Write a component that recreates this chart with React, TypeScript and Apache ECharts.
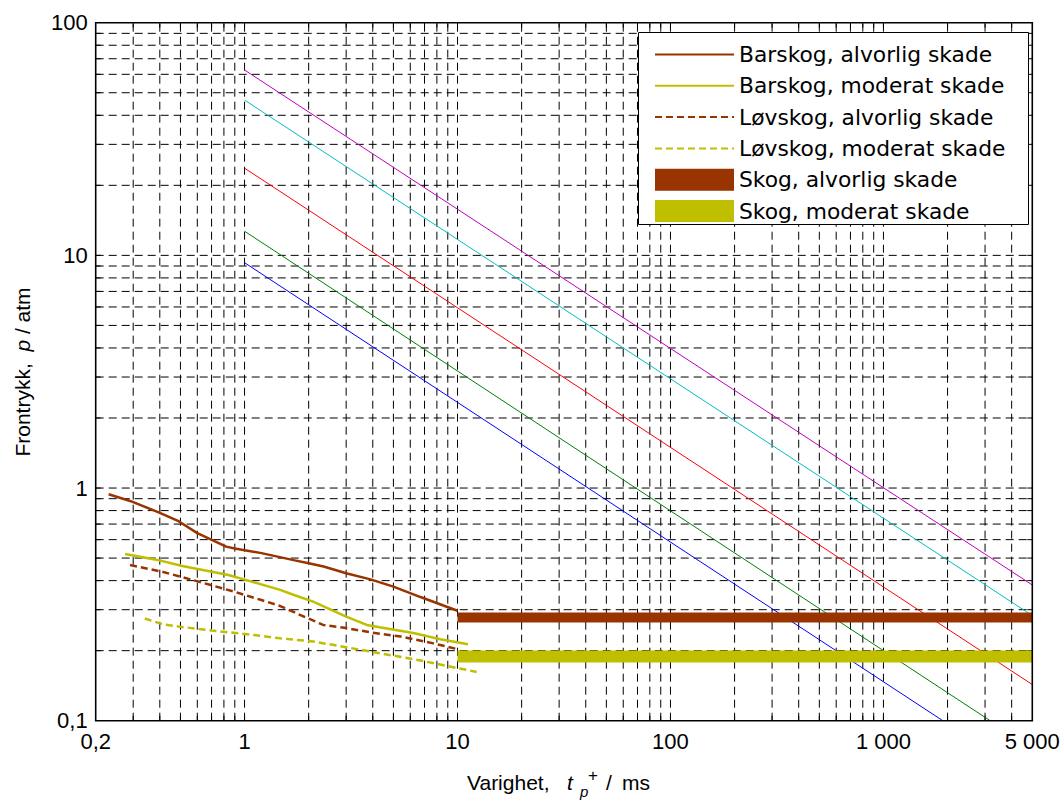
import React, { useEffect, useRef } from 'react';
import * as echarts from 'echarts';

// Axis ranges (log-log)
const X_MIN = 0.2;
const X_MAX = 5000;
const Y_MIN = 0.1;
const Y_MAX = 100;

// Labelled ticks
const xTickValues = [0.2, 1, 10, 100, 1000, 5000];
const xTickLabels = ['0,2', '1', '10', '100', '1 000', '5 000'];
const yTickValues = [0.1, 1, 10, 100];
const yTickLabels = ['0,1', '1', '10', '100'];

// Grid line positions (1..9 within each decade)
const gridMultipliers = [1, 2, 3, 4, 5, 6, 7, 8, 9];
const xDecades = [0.1, 1, 10, 100, 1000];
const yDecades = [0.1, 1, 10];

// Damage curves: [duration ms, pressure atm]
const barskogAlvorlig = [
  [0.23, 0.94], [0.29, 0.88], [0.39, 0.79], [0.49, 0.72], [0.6, 0.64], [0.82, 0.56],
  [0.9, 0.55], [1.2, 0.525], [1.7, 0.49], [2, 0.475], [2.35, 0.46], [3, 0.43],
  [3.9, 0.405], [5, 0.377], [6.7, 0.34], [10, 0.297],
];
const barskogModerat = [
  [0.275, 0.521], [0.39, 0.491], [0.51, 0.462], [0.84, 0.423], [1.04, 0.4], [1.47, 0.365],
  [1.72, 0.346], [2.1, 0.325], [3, 0.28], [3.75, 0.258], [4.3, 0.252], [6.2, 0.238],
  [8.3, 0.224], [11.2, 0.213],
];
const lovskogAlvorlig = [
  [0.29, 0.467], [0.41, 0.437], [0.585, 0.4], [0.9, 0.358], [1.2, 0.33], [1.47, 0.311],
  [1.72, 0.292], [1.82, 0.285], [2.34, 0.258], [3, 0.25], [4, 0.239], [5.4, 0.23],
  [7.7, 0.215], [10, 0.203],
];
const lovskogModerat = [
  [0.34, 0.275], [0.41, 0.26], [0.49, 0.254], [0.7, 0.244], [1, 0.236], [1.47, 0.226],
  [2.1, 0.219], [3, 0.207], [4.3, 0.195], [6.2, 0.184], [8.9, 0.172], [12.3, 0.162],
];

// Forest damage levels for long durations
const skogAlvorlig = [[10, 0.278], [5000, 0.278]];
const skogModerat = [[10, 0.189], [5000, 0.189]];

// Straight reference lines (endpoints)
const lineMagenta = [[1, 62.6], [5000, 0.383]];
const lineCyan = [[1, 46.5], [5000, 0.283]];
const lineRed = [[1, 23.7], [5000, 0.143]];
const lineGreen = [[1, 12.7], [3170, 0.1]];
const lineBlue = [[1, 9.3], [1900, 0.1]];

const BROWN = '#993300';
const OLIVE = '#bfbf00';
const AXIS_FONT = 'Liberation Sans, Arial, sans-serif';
const LEGEND_FONT = 'DejaVu Sans, sans-serif';
const TICK = 5;

function gridValues(decades: number[], lo: number, hi: number) {
  const out: number[] = [];
  decades.forEach((d) => {
    gridMultipliers.forEach((m) => {
      const v = parseFloat((d * m).toPrecision(6));
      if (v > lo * 1.0001 && v < hi * 0.9999) out.push(v);
    });
  });
  return out;
}

const xGridLines = gridValues(xDecades, X_MIN, X_MAX);
const yGridLines = gridValues(yDecades, Y_MIN, Y_MAX);

function pickLabel(values: number[], labels: string[], v: number) {
  const i = values.findIndex((t) => Math.abs(Math.log10(t) - Math.log10(v)) < 0.01);
  return i >= 0 ? labels[i] : '';
}

function renderXGrid(_params: any, api: any) {
  const v = api.value(0);
  const b = api.coord([v, Y_MIN]);
  const t = api.coord([v, Y_MAX]);
  return {
    type: 'group',
    children: [
      { type: 'line', shape: { x1: b[0], y1: b[1], x2: t[0], y2: t[1] }, style: { stroke: '#000', lineWidth: 1, lineDash: [8, 5] } },
      { type: 'line', shape: { x1: b[0], y1: b[1], x2: b[0], y2: b[1] - TICK }, style: { stroke: '#000', lineWidth: 1 } },
      { type: 'line', shape: { x1: t[0], y1: t[1], x2: t[0], y2: t[1] + TICK }, style: { stroke: '#000', lineWidth: 1 } },
    ],
  };
}

function renderYGrid(_params: any, api: any) {
  const v = api.value(1);
  const l = api.coord([X_MIN, v]);
  const r = api.coord([X_MAX, v]);
  return {
    type: 'group',
    children: [
      { type: 'line', shape: { x1: l[0], y1: l[1], x2: r[0], y2: r[1] }, style: { stroke: '#000', lineWidth: 1, lineDash: [8, 5] } },
      { type: 'line', shape: { x1: l[0], y1: l[1], x2: l[0] + TICK, y2: l[1] }, style: { stroke: '#000', lineWidth: 1 } },
      { type: 'line', shape: { x1: r[0], y1: r[1], x2: r[0] - TICK, y2: r[1] }, style: { stroke: '#000', lineWidth: 1 } },
    ],
  };
}

function straightLine(name: string, data: number[][], color: string) {
  return {
    name, type: 'line', data, symbol: 'none', showSymbol: false, z: 2,
    lineStyle: { color, width: 1 }, itemStyle: { color }, silent: true,
  };
}

function curve(name: string, data: number[][], color: string, dashed: boolean) {
  return {
    name, type: 'line', data, symbol: 'none', showSymbol: false, z: 3,
    lineStyle: { color, width: 2.5, type: dashed ? [7, 4] : 'solid' },
    itemStyle: { color }, silent: true,
  };
}

function band(name: string, data: number[][], color: string, width: number) {
  return {
    name, type: 'line', data, symbol: 'none', showSymbol: false, z: 4,
    lineStyle: { color, width, cap: 'butt' }, itemStyle: { color }, silent: true,
  };
}

// Line-only legend entries: hide the marker that the legend icon adds
const lineEntry = (name: string) => ({ name, itemStyle: { opacity: 0 } });

export default function App() {
  const ref = useRef<HTMLDivElement>(null);

  useEffect(() => {
    document.body.style.margin = '0';
    if (!ref.current) return;
    const chart = echarts.init(ref.current, undefined, { renderer: 'svg' });

    chart.setOption({
      animation: false,
      backgroundColor: '#fff',
      grid: {
        left: 95.7, right: 31.7, top: 22.7, bottom: 79.3,
        show: true, borderColor: '#000', borderWidth: 1.6, backgroundColor: 'transparent', z: 5,
      },
      xAxis: {
        type: 'log', logBase: 10, min: X_MIN, max: X_MAX,
        axisLine: { show: false }, axisTick: { show: false }, splitLine: { show: false },
        axisLabel: {
          show: true, margin: 10, fontSize: 22, fontFamily: AXIS_FONT, color: '#000',
          showMinLabel: true, showMaxLabel: true, hideOverlap: false,
          formatter: (v: number) => pickLabel(xTickValues, xTickLabels, v),
        },
      },
      yAxis: {
        type: 'log', logBase: 10, min: Y_MIN, max: Y_MAX,
        axisLine: { show: false }, axisTick: { show: false }, splitLine: { show: false },
        axisLabel: {
          show: true, margin: 8, fontSize: 22, fontFamily: AXIS_FONT, color: '#000',
          showMinLabel: true, showMaxLabel: true, hideOverlap: false,
          formatter: (v: number) => pickLabel(yTickValues, yTickLabels, v),
        },
      },
      legend: {
        left: 654, top: 43.5, orient: 'vertical', padding: 0,
        itemWidth: 79, itemHeight: 22, itemGap: 9.3, selectedMode: false, z: 60,
        textStyle: { fontFamily: LEGEND_FONT, fontSize: 21.8, color: '#000', lineHeight: 22 },
        data: [
          lineEntry('Barskog, alvorlig skade'),
          lineEntry('Barskog, moderat skade'),
          lineEntry('Løvskog, alvorlig skade'),
          lineEntry('Løvskog, moderat skade'),
          { name: 'Skog, alvorlig skade', icon: 'rect' },
          { name: 'Skog, moderat skade', icon: 'rect' },
        ],
      },
      graphic: [
        {
          type: 'rect', z: 50,
          shape: { x: 638.5, y: 32.5, width: 390, height: 192 },
          style: { fill: '#fff', stroke: '#000', lineWidth: 1 },
        },
        {
          type: 'text', x: 467, y: 782.5, z: 50,
          style: { text: 'Varighet,', font: `21px ${AXIS_FONT}`, fill: '#000', verticalAlign: 'middle' },
        },
        {
          type: 'text', x: 567, y: 782.5, z: 50,
          style: { text: 't', font: `italic 21px ${AXIS_FONT}`, fill: '#000', verticalAlign: 'middle' },
        },
        {
          type: 'text', x: 580, y: 791, z: 50,
          style: { text: 'p', font: `italic 15px ${AXIS_FONT}`, fill: '#000', verticalAlign: 'middle' },
        },
        {
          type: 'text', x: 588, y: 775, z: 50,
          style: { text: '+', font: `17px ${AXIS_FONT}`, fill: '#000', verticalAlign: 'middle' },
        },
        {
          type: 'text', x: 606, y: 782.5, z: 50,
          style: { text: '/', font: `21px ${AXIS_FONT}`, fill: '#000', verticalAlign: 'middle' },
        },
        {
          type: 'text', x: 622, y: 782.5, z: 50,
          style: { text: 'ms', font: `21px ${AXIS_FONT}`, fill: '#000', verticalAlign: 'middle' },
        },
        {
          type: 'text', x: 22, y: 372, rotation: Math.PI / 2, z: 50,
          style: {
            text: 'Frontrykk,  {i|p} / atm',
            font: `21px ${AXIS_FONT}`, fill: '#000', align: 'center', verticalAlign: 'middle',
            rich: { i: { fontStyle: 'italic', fontSize: 21, fontFamily: AXIS_FONT } },
          },
        },
      ],
      series: [
        {
          name: 'xgrid', type: 'custom', renderItem: renderXGrid, z: 1, silent: true,
          encode: { x: 0, y: 1 }, data: xGridLines.map((v) => [v, 1]),
        },
        {
          name: 'ygrid', type: 'custom', renderItem: renderYGrid, z: 1, silent: true,
          encode: { x: 0, y: 1 }, data: yGridLines.map((v) => [1, v]),
        },
        straightLine('m', lineMagenta, '#bf00bf'),
        straightLine('c', lineCyan, '#00bfbf'),
        straightLine('r', lineRed, '#ff0000'),
        straightLine('g', lineGreen, '#008000'),
        straightLine('b', lineBlue, '#0000ff'),
        curve('Barskog, alvorlig skade', barskogAlvorlig, BROWN, false),
        curve('Barskog, moderat skade', barskogModerat, OLIVE, false),
        curve('Løvskog, alvorlig skade', lovskogAlvorlig, BROWN, true),
        curve('Løvskog, moderat skade', lovskogModerat, OLIVE, true),
        band('Skog, alvorlig skade', skogAlvorlig, BROWN, 10),
        band('Skog, moderat skade', skogModerat, OLIVE, 12),
      ],
    });

    return () => chart.dispose();
  }, []);

  return <div ref={ref} style={{ width: 1064, height: 800 }} />;
}
